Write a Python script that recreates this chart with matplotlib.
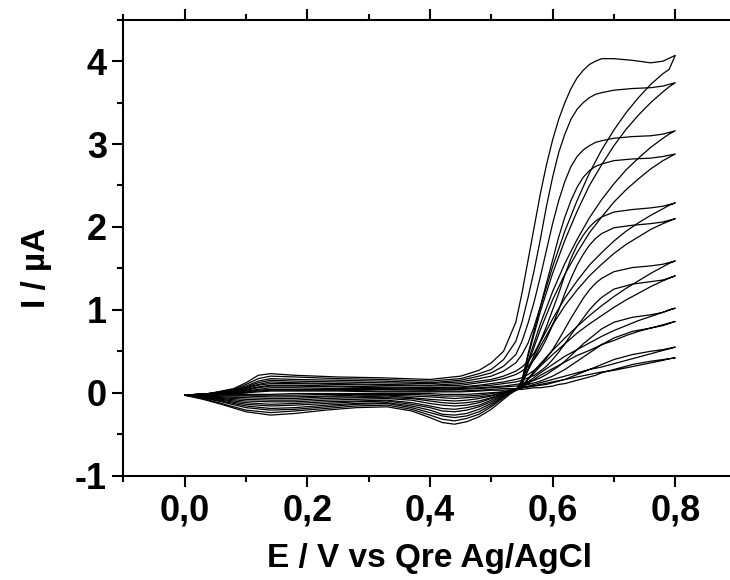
import matplotlib.pyplot as plt
from matplotlib.ticker import MultipleLocator

# potential grids (V) for the anodic and the return sweep
E_fwd = [0.00, 0.04, 0.08, 0.10, 0.12, 0.14, 0.18, 0.25, 0.32, 0.40, 0.45, 0.48,
         0.50, 0.52, 0.54, 0.55, 0.56, 0.57, 0.58, 0.59, 0.60, 0.61, 0.62, 0.63,
         0.64, 0.65, 0.66, 0.67, 0.68, 0.70, 0.73, 0.76, 0.78, 0.80]
E_rev = [0.80, 0.79, 0.78, 0.76, 0.74, 0.72, 0.70, 0.68, 0.66, 0.64, 0.62, 0.60,
         0.58, 0.56, 0.55, 0.54, 0.53, 0.52, 0.50, 0.48, 0.46, 0.44, 0.42, 0.40,
         0.37, 0.33, 0.28, 0.23, 0.18, 0.14, 0.10, 0.06, 0.03, 0.00]

# forward sweep currents (uA), one list per scan
fwd_01 = [-0.03, -0.01, 0.05, 0.12, 0.21, 0.23, 0.21, 0.19, 0.18, 0.16, 0.20, 0.27,
          0.36, 0.50, 0.85, 1.20, 1.60, 2.00, 2.40, 2.75, 3.05, 3.30, 3.50, 3.67,
          3.80, 3.89, 3.96, 4.00, 4.03, 4.03, 4.01, 3.98, 4.00, 4.07]
fwd_02 = [-0.03, -0.01, 0.04, 0.10, 0.17, 0.20, 0.19, 0.17, 0.16, 0.14, 0.17, 0.23,
          0.28, 0.40, 0.62, 0.85, 1.15, 1.48, 1.85, 2.25, 2.60, 2.90, 3.12, 3.30,
          3.42, 3.50, 3.56, 3.60, 3.62, 3.65, 3.67, 3.68, 3.70, 3.74]
fwd_03 = [-0.03, -0.01, 0.03, 0.08, 0.14, 0.17, 0.16, 0.15, 0.14, 0.12, 0.15, 0.20,
          0.24, 0.32, 0.46, 0.62, 0.84, 1.10, 1.40, 1.72, 2.04, 2.32, 2.55, 2.73,
          2.85, 2.93, 2.98, 3.02, 3.04, 3.07, 3.09, 3.10, 3.12, 3.16]
fwd_04 = [-0.03, -0.01, 0.03, 0.07, 0.12, 0.15, 0.14, 0.13, 0.12, 0.11, 0.13, 0.17,
          0.20, 0.26, 0.36, 0.46, 0.60, 0.80, 1.04, 1.32, 1.60, 1.88, 2.12, 2.32,
          2.48, 2.60, 2.68, 2.73, 2.76, 2.80, 2.82, 2.83, 2.85, 2.88]
fwd_05 = [-0.03, -0.01, 0.02, 0.06, 0.10, 0.13, 0.12, 0.11, 0.10, 0.09, 0.11, 0.14,
          0.16, 0.20, 0.26, 0.31, 0.38, 0.48, 0.62, 0.80, 1.00, 1.20, 1.42, 1.62,
          1.78, 1.90, 2.00, 2.07, 2.12, 2.18, 2.21, 2.23, 2.25, 2.29]
fwd_06 = [-0.03, -0.01, 0.02, 0.05, 0.09, 0.11, 0.11, 0.10, 0.09, 0.08, 0.09, 0.12,
          0.14, 0.17, 0.22, 0.26, 0.32, 0.40, 0.51, 0.65, 0.82, 1.00, 1.20, 1.38,
          1.54, 1.67, 1.78, 1.86, 1.92, 1.99, 2.02, 2.04, 2.06, 2.10]
fwd_07 = [-0.03, -0.02, 0.01, 0.04, 0.07, 0.09, 0.09, 0.08, 0.07, 0.06, 0.07, 0.09,
          0.11, 0.13, 0.16, 0.18, 0.22, 0.27, 0.33, 0.42, 0.52, 0.64, 0.77, 0.90,
          1.02, 1.14, 1.24, 1.32, 1.38, 1.46, 1.51, 1.53, 1.55, 1.59]
fwd_08 = [-0.03, -0.02, 0.01, 0.03, 0.06, 0.08, 0.08, 0.07, 0.06, 0.05, 0.06, 0.08,
          0.09, 0.11, 0.13, 0.15, 0.18, 0.21, 0.26, 0.32, 0.40, 0.49, 0.59, 0.70,
          0.80, 0.90, 1.00, 1.08, 1.15, 1.25, 1.31, 1.34, 1.36, 1.41]
fwd_09 = [-0.03, -0.02, 0.00, 0.02, 0.04, 0.06, 0.06, 0.05, 0.05, 0.04, 0.05, 0.06,
          0.07, 0.08, 0.10, 0.11, 0.13, 0.15, 0.18, 0.22, 0.27, 0.32, 0.38, 0.45,
          0.52, 0.59, 0.65, 0.71, 0.77, 0.85, 0.91, 0.94, 0.97, 1.02]
fwd_10 = [-0.03, -0.02, 0.00, 0.01, 0.03, 0.04, 0.04, 0.04, 0.04, 0.03, 0.04, 0.05,
          0.06, 0.07, 0.08, 0.09, 0.10, 0.12, 0.14, 0.17, 0.20, 0.24, 0.28, 0.33,
          0.38, 0.43, 0.48, 0.53, 0.58, 0.66, 0.74, 0.78, 0.81, 0.86]
fwd_11 = [-0.03, -0.02, -0.01, 0.00, 0.02, 0.03, 0.03, 0.03, 0.02, 0.02, 0.02, 0.03,
          0.04, 0.05, 0.05, 0.06, 0.07, 0.08, 0.09, 0.10, 0.12, 0.14, 0.16, 0.19,
          0.22, 0.25, 0.28, 0.31, 0.34, 0.40, 0.46, 0.50, 0.52, 0.55]
fwd_12 = [-0.03, -0.02, -0.01, 0.00, 0.01, 0.02, 0.02, 0.02, 0.01, 0.01, 0.01, 0.02,
          0.03, 0.03, 0.04, 0.04, 0.05, 0.06, 0.06, 0.07, 0.08, 0.10, 0.11, 0.13,
          0.15, 0.17, 0.19, 0.21, 0.24, 0.28, 0.34, 0.38, 0.40, 0.42]

# return sweep currents (uA), one list per scan
rev_01 = [4.07, 3.90, 3.85, 3.72, 3.56, 3.38, 3.17, 2.93, 2.65, 2.32, 1.95, 1.52,
          1.03, 0.47, 0.15, 0.03, -0.02, -0.08, -0.20, -0.29, -0.35, -0.38, -0.36, -0.30,
          -0.22, -0.17, -0.18, -0.21, -0.25, -0.27, -0.23, -0.14, -0.08, -0.03]
rev_02 = [3.74, 3.69, 3.63, 3.50, 3.35, 3.18, 2.98, 2.75, 2.50, 2.19, 1.84, 1.44,
          0.98, 0.44, 0.14, 0.03, -0.01, -0.06, -0.17, -0.26, -0.31, -0.34, -0.32, -0.27,
          -0.20, -0.15, -0.16, -0.19, -0.22, -0.24, -0.21, -0.13, -0.07, -0.03]
rev_03 = [3.16, 3.12, 3.07, 2.96, 2.83, 2.69, 2.52, 2.33, 2.11, 1.85, 1.56, 1.22,
          0.83, 0.38, 0.13, 0.03, -0.01, -0.05, -0.15, -0.23, -0.28, -0.30, -0.28, -0.24,
          -0.18, -0.13, -0.14, -0.17, -0.20, -0.21, -0.18, -0.11, -0.06, -0.03]
rev_04 = [2.88, 2.84, 2.80, 2.70, 2.58, 2.45, 2.30, 2.12, 1.93, 1.69, 1.43, 1.12,
          0.76, 0.35, 0.12, 0.03, 0.00, -0.04, -0.13, -0.20, -0.25, -0.27, -0.26, -0.21,
          -0.16, -0.12, -0.13, -0.15, -0.18, -0.19, -0.16, -0.10, -0.06, -0.03]
rev_05 = [2.29, 2.26, 2.22, 2.14, 2.05, 1.95, 1.83, 1.69, 1.54, 1.35, 1.14, 0.89,
          0.61, 0.29, 0.11, 0.03, 0.00, -0.03, -0.11, -0.17, -0.21, -0.23, -0.22, -0.18,
          -0.14, -0.10, -0.11, -0.13, -0.15, -0.16, -0.14, -0.09, -0.05, -0.03]
rev_06 = [2.10, 2.07, 2.04, 1.97, 1.88, 1.79, 1.68, 1.55, 1.41, 1.24, 1.05, 0.82,
          0.56, 0.27, 0.10, 0.03, 0.01, -0.02, -0.09, -0.15, -0.18, -0.20, -0.19, -0.16,
          -0.12, -0.09, -0.10, -0.11, -0.13, -0.14, -0.12, -0.08, -0.05, -0.03]
rev_07 = [1.59, 1.56, 1.52, 1.44, 1.35, 1.26, 1.16, 1.05, 0.93, 0.80, 0.66, 0.51,
          0.35, 0.17, 0.08, 0.03, 0.01, -0.01, -0.07, -0.12, -0.15, -0.16, -0.15, -0.13,
          -0.09, -0.07, -0.08, -0.09, -0.11, -0.11, -0.10, -0.07, -0.04, -0.03]
rev_08 = [1.41, 1.38, 1.35, 1.28, 1.20, 1.12, 1.03, 0.93, 0.83, 0.72, 0.59, 0.46,
          0.32, 0.16, 0.08, 0.03, 0.01, -0.01, -0.06, -0.10, -0.12, -0.13, -0.12, -0.10,
          -0.07, -0.06, -0.06, -0.07, -0.09, -0.09, -0.08, -0.06, -0.04, -0.03]
rev_09 = [1.02, 1.00, 0.97, 0.92, 0.87, 0.81, 0.75, 0.68, 0.60, 0.52, 0.44, 0.34,
          0.24, 0.13, 0.07, 0.03, 0.02, 0.00, -0.04, -0.07, -0.09, -0.10, -0.09, -0.08,
          -0.06, -0.04, -0.05, -0.05, -0.07, -0.07, -0.06, -0.05, -0.04, -0.03]
rev_10 = [0.86, 0.84, 0.82, 0.78, 0.74, 0.69, 0.63, 0.58, 0.51, 0.45, 0.37, 0.29,
          0.21, 0.11, 0.07, 0.03, 0.02, 0.00, -0.03, -0.05, -0.06, -0.07, -0.06, -0.05,
          -0.04, -0.03, -0.03, -0.04, -0.05, -0.05, -0.04, -0.04, -0.03, -0.03]
rev_11 = [0.55, 0.53, 0.51, 0.47, 0.43, 0.39, 0.35, 0.31, 0.28, 0.24, 0.20, 0.16,
          0.12, 0.08, 0.06, 0.03, 0.02, 0.01, -0.01, -0.03, -0.04, -0.04, -0.04, -0.03,
          -0.02, -0.02, -0.02, -0.02, -0.03, -0.03, -0.03, -0.03, -0.03, -0.03]
rev_12 = [0.42, 0.41, 0.39, 0.36, 0.33, 0.30, 0.27, 0.25, 0.22, 0.19, 0.16, 0.13,
          0.10, 0.07, 0.06, 0.03, 0.02, 0.01, 0.00, -0.01, -0.02, -0.02, -0.02, -0.01,
          -0.01, -0.01, -0.01, -0.01, -0.01, -0.02, -0.02, -0.02, -0.03, -0.03]

fwd_scans = [fwd_01, fwd_02, fwd_03, fwd_04, fwd_05, fwd_06,
             fwd_07, fwd_08, fwd_09, fwd_10, fwd_11, fwd_12]
rev_scans = [rev_01, rev_02, rev_03, rev_04, rev_05, rev_06,
             rev_07, rev_08, rev_09, rev_10, rev_11, rev_12]

x_ticks = [0.0, 0.2, 0.4, 0.6, 0.8]
x_tick_labels = ['0,0', '0,2', '0,4', '0,6', '0,8']
y_ticks = [-1, 0, 1, 2, 3, 4]
y_tick_labels = ['-1', '0', '1', '2', '3', '4']

plt.rcParams['font.family'] = ['Liberation Sans', 'DejaVu Sans']
plt.rcParams['font.weight'] = 'bold'

fig = plt.figure(figsize=(7.3, 5.8), dpi=100)
ax = fig.add_axes([0.169, 0.180, 0.840, 0.786])

# each scan drawn as one closed loop: forward then return
for f, r in zip(fwd_scans, rev_scans):
    ax.plot(E_fwd + E_rev, f + r, color='black', lw=0.9)

ax.set_xlim(-0.1, 0.9)
ax.set_ylim(-1, 4.5)

ax.set_xticks(x_ticks)
ax.set_xticklabels(x_tick_labels)
ax.set_yticks(y_ticks)
ax.set_yticklabels(y_tick_labels)
ax.xaxis.set_minor_locator(MultipleLocator(0.1))
ax.yaxis.set_minor_locator(MultipleLocator(0.5))

ax.tick_params(which='both', direction='out', width=1.5, top=True, right=False,
               labelsize=26)
ax.tick_params(which='major', length=8)
ax.tick_params(which='minor', length=4)
ax.tick_params(axis='x', pad=5)
ax.tick_params(axis='y', pad=4)
for s in ['left', 'top', 'bottom']:
    ax.spines[s].set_linewidth(1.5)
ax.spines['right'].set_visible(False)

for lab in ax.get_xticklabels() + ax.get_yticklabels():
    lab.set_fontweight('bold')

ax.set_xlabel('E / V vs Qre Ag/AgCl', fontsize=24, fontweight='bold')
ax.set_ylabel('I / µA', fontsize=24, fontweight='bold')
ax.xaxis.set_label_coords(0.5, -0.148)
ax.yaxis.set_label_coords(-0.116, 0.456)

fig.savefig('out.png', dpi=100)
